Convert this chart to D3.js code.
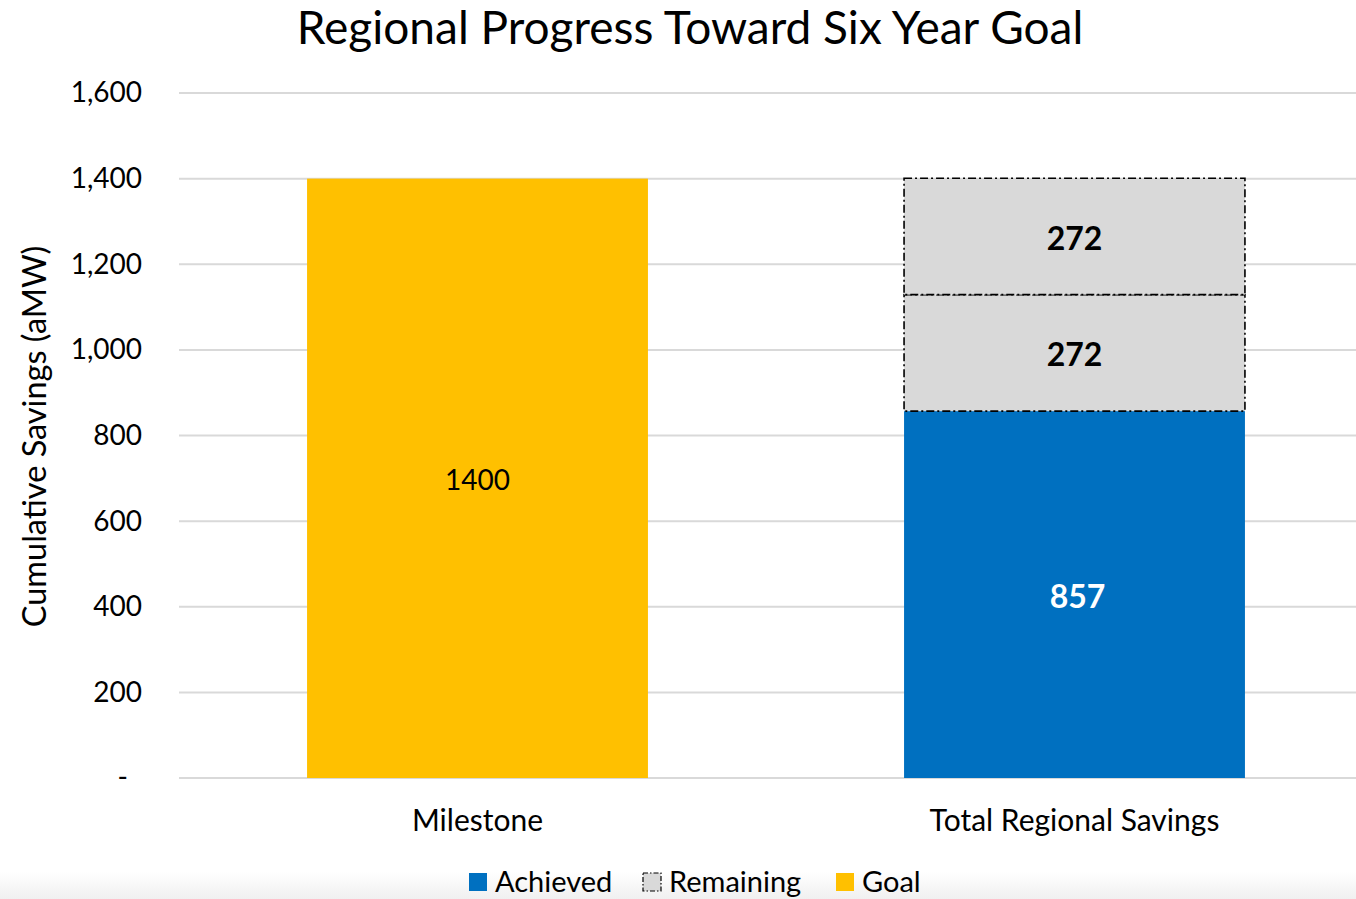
<!DOCTYPE html>
<html>
<head>
<meta charset="utf-8">
<script src="https://cdn.jsdelivr.net/npm/d3@7"></script>
<style>
  body { margin: 0; background: #fff; }
  text { font-family: Lato, "Open Sans", sans-serif; fill: #000; }
</style>
</head>
<body>
<div id="chart"></div>
<script>
// Chart data
const categories = ["Milestone", "Total Regional Savings"];
const achieved = [0, 857];
const remainingLow = [0, 272];
const remainingHigh = [0, 272];
const goal = [1400, 0];
const yTicks = [0, 200, 400, 600, 800, 1000, 1200, 1400, 1600];
const legendItems = ["Achieved", "Remaining", "Goal"];

const svgWidth = 1356;
const svgHeight = 899;
const plot = { left: 179, right: 1373, top: 93, bottom: 778 };

const colors = {
  achieved: "#0070C0",
  remaining: "#D9D9D9",
  goal: "#FFC000",
  grid: "#D9D9D9"
};

const svg = d3
  .select("#chart")
  .append("svg")
  .attr("width", svgWidth)
  .attr("height", svgHeight);

// faint grey fade at the bottom edge
const defs = svg.append("defs");
const grad = defs
  .append("linearGradient")
  .attr("id", "fade")
  .attr("x1", 0).attr("y1", 0).attr("x2", 0).attr("y2", 1);
grad.append("stop").attr("offset", "0%").attr("stop-color", "#ffffff");
grad.append("stop").attr("offset", "100%").attr("stop-color", "#f0f0f0");
svg
  .append("rect")
  .attr("x", 0)
  .attr("y", 872)
  .attr("width", svgWidth)
  .attr("height", svgHeight - 872)
  .attr("fill", "url(#fade)");

// Scales
const x = d3
  .scaleBand()
  .domain(categories)
  .range([plot.left, plot.right])
  .paddingInner(0.429)
  .paddingOuter(0.2145);

const y = d3.scaleLinear().domain([0, 1600]).range([plot.bottom, plot.top]);

// Gridlines
svg
  .append("g")
  .selectAll("line")
  .data(yTicks)
  .join("line")
  .attr("x1", plot.left)
  .attr("x2", svgWidth)
  .attr("y1", (d) => y(d))
  .attr("y2", (d) => y(d))
  .attr("stroke", colors.grid)
  .attr("stroke-width", 2);

// Y axis labels (accounting style: zero shown as a dash)
const yAxis = d3
  .axisLeft(y)
  .tickValues(yTicks)
  .tickSize(0)
  .tickPadding(0)
  .tickFormat((d) => (d === 0 ? "-" : d3.format(",")(d)));

svg
  .append("g")
  .attr("transform", "translate(142,0)")
  .call(yAxis)
  .call((g) => g.select(".domain").remove())
  .call((g) =>
    g.selectAll("text")
      .style("font-family", "Lato, sans-serif")
      .style("font-size", "28px")
      .attr("fill", "#000")
      .attr("dx", (d) => (d === 0 ? -14 : 0))
  );

// X axis labels
svg
  .append("g")
  .selectAll("text")
  .data(categories)
  .join("text")
  .attr("x", (d) => x(d) + x.bandwidth() / 2)
  .attr("y", 831)
  .attr("text-anchor", "middle")
  .style("font-size", "30px")
  .text((d) => d);

// Stack
const rows = categories.map((c, i) => ({
  category: c,
  achieved: achieved[i],
  remainingLow: remainingLow[i],
  remainingHigh: remainingHigh[i],
  goal: goal[i]
}));
const keys = ["achieved", "remainingLow", "remainingHigh", "goal"];
const series = d3.stack().keys(keys)(rows);

const fillFor = (key) =>
  key === "achieved" ? colors.achieved : key === "goal" ? colors.goal : colors.remaining;

const layers = svg
  .append("g")
  .selectAll("g")
  .data(series)
  .join("g")
  .attr("fill", (d) => fillFor(d.key));

layers
  .selectAll("rect")
  .data((d) => d.map((p) => ({ key: d.key, p: p })).filter((e) => e.p[1] - e.p[0] > 0))
  .join("rect")
  .attr("x", (d) => x(d.p.data.category))
  .attr("width", x.bandwidth())
  .attr("y", (d) => y(d.p[1]))
  .attr("height", (d) => y(d.p[0]) - y(d.p[1]))
  .attr("stroke", (d) => (d.key.startsWith("remaining") ? "#000" : "none"))
  .attr("stroke-width", 1.6)
  .attr("stroke-dasharray", "8,3,2,3");

// Data labels
layers
  .selectAll("text")
  .data((d) => d.map((p) => ({ key: d.key, p: p })).filter((e) => e.p[1] - e.p[0] > 0))
  .join("text")
  .attr("x", (d) => x(d.p.data.category) + x.bandwidth() / 2 + (d.key === "achieved" ? 3 : 0))
  .attr("y", (d) => y((d.p[0] + d.p[1]) / 2) + 2)
  .attr("dy", "0.35em")
  .attr("text-anchor", "middle")
  .style("font-size", (d) => (d.key === "goal" ? "28px" : "32px"))
  .style("font-weight", (d) => (d.key === "goal" ? "normal" : "bold"))
  .style("fill", (d) => (d.key === "achieved" ? "#fff" : "#000"))
  .text((d) => d.p[1] - d.p[0]);

// Title
svg
  .append("text")
  .attr("x", 690)
  .attr("y", 44)
  .attr("text-anchor", "middle")
  .style("font-size", "46px")
  .text("Regional Progress Toward Six Year Goal");

// Y axis title
svg
  .append("text")
  .attr("transform", `translate(46,${(245 + 628) / 2}) rotate(-90)`)
  .attr("text-anchor", "middle")
  .style("font-size", "32.5px")
  .text("Cumulative Savings (aMW)");

// Legend
const legendX = [469, 643, 836];
const legend = svg
  .append("g")
  .selectAll("g")
  .data(legendItems)
  .join("g")
  .attr("transform", (d, i) => `translate(${legendX[i]},873)`);

legend
  .append("rect")
  .attr("width", 18)
  .attr("height", 18)
  .attr("fill", (d) =>
    d === "Achieved" ? colors.achieved : d === "Goal" ? colors.goal : colors.remaining
  )
  .attr("stroke", (d) => (d === "Remaining" ? "#000" : "none"))
  .attr("stroke-width", 1.2)
  .attr("stroke-dasharray", "5,2,1.5,2");

legend
  .append("text")
  .attr("x", 26)
  .attr("y", 9)
  .attr("dy", "0.35em")
  .style("font-size", "29px")
  .text((d) => d);
</script>
</body>
</html>
